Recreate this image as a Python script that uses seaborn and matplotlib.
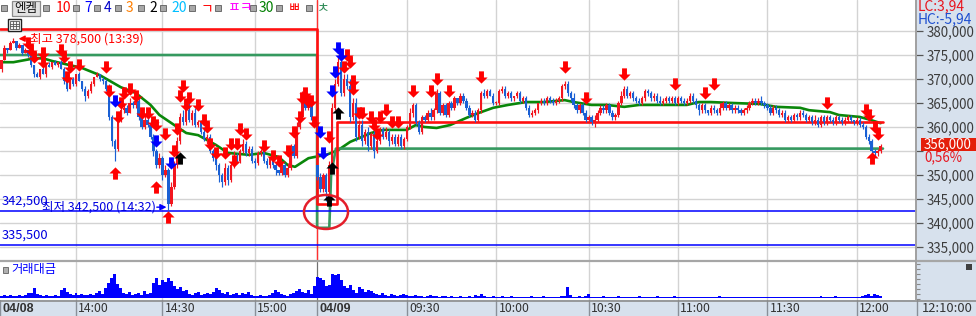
import numpy as np
import pandas as pd
import matplotlib
matplotlib.use("Agg")
import matplotlib.pyplot as plt
import seaborn as sns
from matplotlib.path import Path
from matplotlib.patches import Rectangle, Ellipse
from matplotlib.lines import Line2D

# ------------------------------------------------------------------ data
# prices in thousand KRW, 1-minute bars: day 1 (04/08 13:34-15:30), day 2 (04/09 09:00-12:09)
day_opens = [372.0, 352.0]
day1_close = [
    374.0, 376.5, 376.0, 377.5, 378.0, 376.5, 377.0, 375.5, 376.0, 375.0,
    373.0, 371.0, 370.5, 372.0, 371.0, 373.0, 372.5, 373.5, 373.0, 373.5,
    372.0, 369.5, 368.0, 370.0, 369.0, 371.0, 369.5, 368.0, 366.5, 367.5,
    369.0, 370.5, 371.0, 370.0, 369.5, 368.0, 362.0, 357.0, 355.5, 361.5,
    363.5, 364.0, 363.0, 365.0, 364.5, 365.5, 362.0, 360.0, 361.5, 360.5,
    358.0, 355.0, 352.0, 353.5, 350.0, 351.0, 344.0, 347.5, 352.0, 357.0,
    362.0, 361.0, 363.5, 361.5, 363.0, 360.5, 361.0, 359.0, 357.5, 358.0,
    355.0, 353.5, 352.0, 350.0, 348.5, 351.5, 349.0, 352.0, 354.0, 353.0,
    355.0, 356.5, 354.5, 355.5, 353.0, 352.5, 354.5, 355.0, 353.0, 352.0,
    353.5, 352.0, 351.0, 350.5, 352.0, 350.0, 351.5, 356.0, 354.0, 360.0,
    362.0, 366.0, 364.0, 365.5, 362.0, 361.5]
day2_close = [
    349.5, 347.0, 350.0, 346.5, 352.0, 364.0, 369.0, 373.5, 367.0, 370.0,
    368.5, 362.0, 365.0, 358.0, 360.5, 357.0, 359.0, 356.0, 358.5, 355.0,
    357.0, 359.5, 358.0, 359.0, 357.0, 358.0, 356.5, 358.0, 356.0, 357.5,
    360.0, 363.0, 364.5, 361.0, 359.0, 362.0, 361.5, 363.0, 362.0, 363.5,
    367.0, 363.0, 364.5, 362.5, 365.0, 364.0, 366.0, 365.0, 366.5, 365.5,
    364.0, 362.5, 363.0, 361.5, 363.5, 367.0, 366.5, 367.5, 366.5, 365.0,
    365.0, 367.5, 368.0, 366.5, 367.0, 366.0, 366.5, 367.0, 365.5, 366.0,
    364.0, 362.5, 363.0, 363.5, 365.0, 365.5, 365.0, 366.0, 365.5, 365.0,
    365.5, 366.0, 368.5, 369.0, 367.0, 366.0, 364.5, 363.5, 364.5, 363.0,
    361.5, 362.0, 361.0, 361.5, 363.0, 364.0, 363.5, 364.5, 363.0, 362.0,
    362.5, 365.0, 366.5, 368.0, 366.5, 367.0, 366.0, 365.5, 365.0, 366.0,
    367.5, 367.0, 366.0, 366.5, 365.5, 365.0, 365.5, 366.0, 365.5, 366.0,
    365.0, 366.0, 365.5, 365.0, 365.5, 366.5, 365.5, 364.5, 363.5, 364.5,
    363.5, 363.0, 364.0, 363.5, 363.0, 364.0, 365.0, 364.0, 364.5, 363.5,
    364.0, 363.5, 363.0, 363.5, 364.0, 365.0, 365.5, 365.0, 365.5, 365.0,
    364.5, 364.0, 363.0, 364.0, 363.5, 362.5, 363.0, 361.5, 362.0, 361.5,
    362.5, 362.0, 363.0, 362.5, 361.5, 362.0, 361.0, 361.5, 360.5, 362.0,
    361.0, 362.0, 361.5, 361.0, 362.0, 361.5, 361.0, 361.5, 362.0, 361.5,
    361.0, 361.5, 360.5, 360.0, 358.0, 357.0, 355.0, 354.5, 355.0, 356.0]
# wick lengths beyond the body, in 500-won ticks
hi_ext = [
    0,1,0,1,1,0,1,0,1,0, 1,0,1,0,1,0,1,0,1,0, 1,1,0,1,1,0,1,0,1,1,
    1,0,1,0,1,1,2,1,1,2, 1,2,1,2,1,1,1,1,2,1, 2,1,1,2,1,2,1,2,2,2,
    2,3,2,3,1,2,1,1,2,1, 1,1,2,1,1,2,1,1,2,1, 1,2,1,1,1,1,1,1,1,1,
    1,1,1,0,1,1,2,1,1,2, 2,3,1,2,1,0,
    0,2,1,1,2,2,2,3,2,2, 2,3,2,2,2,2,1,2,1,2, 1,1,1,2,1,1,1,1,1,1,
    1,2,1,1,1,1,1,1,2,1, 2,1,1,1,1,1,1,0,1,1, 1,1,1,1,1,1,2,1,1,1,
    1,1,1,1,1,1,0,1,1,1, 1,1,1,1,0,1,1,1,1,1, 1,1,1,1,1,1,2,1,1,1,
    1,1,1,2,1,1,1,1,1,1, 1,1,2,1,1,1,1,1,1,1, 1,1,1,1,1,2,1,1,1,1,
    1,1,1,1,1,1,1,1,1,1, 1,0,1,1,1,2,1,1,1,1, 1,1,1,1,1,1,1,1,1,2,
    1,1,1,1,1,1,1,1,1,1, 1,1,1,1,1,1,1,2,1,1, 1,1,1,1,1,1,1,1,1,1,
    0,1,1,1,1,1,1,1,1,1]
lo_ext = [
    1,0,1,0,0,1,0,1,0,1, 1,1,0,1,0,1,0,1,0,1, 0,1,1,0,1,1,0,1,2,1,
    1,1,0,1,1,1,1,2,5,1, 1,1,1,0,1,1,1,1,1,1, 1,2,1,1,2,1,3,1,1,1,
    1,1,1,1,2,1,1,1,1,2, 1,1,2,3,2,1,2,1,1,1, 1,1,1,1,1,2,1,1,1,1,
    1,1,2,1,1,1,1,1,1,1, 1,1,1,1,1,1,
    1,1,1,4,1,1,1,1,1,1, 1,2,1,2,1,2,1,2,1,3, 1,1,1,1,2,1,1,1,1,1,
    1,1,2,1,1,1,1,1,1,1, 1,1,1,1,1,1,1,1,1,1, 1,1,1,1,1,1,1,1,0,1,
    1,1,1,1,1,1,1,1,1,1, 1,1,1,1,1,1,1,1,1,1, 1,1,1,1,1,1,1,1,1,1,
    1,1,1,2,1,1,1,1,1,1, 1,1,1,1,1,1,1,1,1,1, 1,1,1,1,1,1,1,1,1,1,
    1,1,1,1,1,1,1,1,2,1, 1,1,1,1,1,1,1,1,1,1, 1,1,1,1,1,1,1,1,1,1,
    1,1,1,1,1,1,1,1,1,1, 1,1,1,1,1,1,1,1,1,1, 1,1,1,1,1,1,1,1,1,1,
    1,1,1,1,1,1,1,1,1,1]
# trading value (거래대금), relative units
volume = [
    2,3,2,3,2,2,3,2,3,5, 5,10,4,3,2,3,2,2,3,2, 8,10,6,4,3,5,3,4,3,3,
    4,3,5,7,4,10,15,20,24,14, 10,5,4,6,3,4,5,3,7,4, 5,15,20,13,18,16,20,17,12,9,
    11,7,8,4,3,5,6,3,4,5, 4,6,10,8,5,4,6,3,4,5, 3,5,4,6,3,2,2,3,2,2,
    3,5,8,6,4,3,2,4,5,7, 9,6,5,8,4,12,
    21,20,18,12,13,24,23,24,18,12, 10,13,8,5,11,9,6,8,7,5, 4,3,5,3,2,4,3,2,3,4,
    3,2,2,3,2,2,1,2,3,2, 2,1,2,2,1,2,1,1,2,1, 1,2,1,3,2,4,2,1,1,2,
    1,1,2,1,1,2,1,1,1,1, 1,1,2,1,1,1,2,1,1,1, 1,1,2,2,11,3,1,1,2,1,
    2,4,1,1,1,1,2,1,1,1, 1,2,1,1,1,1,1,1,2,1, 1,1,1,1,2,1,1,1,1,1,
    2,1,1,1,1,1,1,1,1,1, 1,1,1,1,1,2,1,1,1,1, 1,1,1,1,1,1,1,1,1,1,
    1,1,1,1,1,1,1,1,1,1, 1,1,1,1,1,1,1,1,1,2, 1,1,1,1,2,1,1,1,1,1,
    1,1,1,2,3,4,2,4,3,2]
# moving average (green)
ma_idx = [0, 4, 11, 14, 17, 27, 33, 40, 45, 50, 53, 58, 62, 66, 72, 76, 83, 88, 93, 96,
          98.5, 103, 105, 109, 113, 117, 124, 128, 136, 139, 142, 146, 150.5, 156, 160,
          165, 170, 176, 182, 189, 192, 198, 203, 209, 214, 230, 234, 238, 245.5, 254.5,
          260, 268, 271, 278, 281, 288, 291.5, 295]
ma_val = [373.5, 373.5, 374.3, 374.3, 373.75, 372.3, 370.8, 368.3, 367.1, 364.6, 362.5,
          360.4, 358.75, 358.3, 356.25, 354.6, 354.2, 354.6, 353.75, 352.1, 351.7, 353.5,
          353.75, 354.2, 355.2, 356.9, 358.75, 359.4, 359.4, 360.4, 360.0, 359.8, 360.4,
          361.9, 362.9, 364.0, 364.6, 365.2, 365.2, 365.6, 365.2, 364.6, 364.6, 364.2,
          364.6, 364.6, 365.2, 365.2, 365.0, 364.8, 364.2, 364.0, 363.5, 363.1, 362.5,
          362.1, 361.5, 360.8]
# step reference lines
red_step_idx = [-0.5, 105.9, 105.9, 112.6, 112.6, 295.8]
red_step_val = [380.5, 380.5, 344.0, 344.0, 361.0, 361.0]
green_step_idx = [-0.5, 105.9, 105.9, 110.0, 110.6, 112.2, 295.8]
green_step_val = [375.0, 375.0, 339.0, 339.0, 350.0, 355.5, 355.5]
# signal arrows
red_dn_idx = [9, 10, 11, 14, 14, 20, 21, 22, 23, 26, 35, 36, 39, 40, 41, 43, 45, 47, 49, 51,
              52, 55, 58, 59, 60, 61, 62, 63, 66, 68, 69, 70, 72, 75, 77, 78, 79, 80, 82, 88,
              91, 93, 96, 98, 100, 101, 102, 103, 104, 105, 110, 115, 116, 117, 118, 118, 120,
              121, 124, 125, 126, 127, 129, 131, 133, 138, 144, 146, 150, 161, 189, 196, 209,
              226, 236, 239, 277, 290, 291, 293, 294]
red_dn_val = [377.5, 376.0, 374.5, 375.5, 373.5, 376.0, 374.5, 370.5, 372.5, 373.0, 372.5,
              367.5, 362.0, 365.0, 367.0, 368.0, 366.5, 363.0, 363.0, 361.0, 360.5, 358.5,
              355.0, 359.5, 366.5, 368.5, 364.5, 366.0, 364.5, 361.5, 360.0, 356.5, 354.5,
              354.5, 356.5, 353.0, 356.5, 359.5, 358.5, 356.0, 354.0, 353.0, 355.0, 359.0,
              362.0, 366.0, 367.0, 365.5, 365.5, 361.0, 358.0, 372.5, 375.0, 373.5, 369.5,
              368.0, 363.0, 363.0, 362.0, 360.5, 358.5, 362.0, 363.5, 361.0, 361.0, 367.5,
              367.5, 370.0, 367.5, 370.5, 372.5, 366.0, 371.0, 369.0, 367.0, 369.0, 365.0,
              363.5, 362.5, 360.0, 358.5]
blue_dn_idx = [38, 52, 57, 107, 108, 111, 112, 113, 114]
blue_dn_val = [365.5, 357.0, 352.5, 359.0, 354.5, 367.5, 371.5, 376.5, 375.0]
red_up_idx = [38, 52, 56, 292]
red_up_val = [350.5, 347.5, 341.3, 353.5]
black_up_idx = [60, 110, 111, 113]
black_up_val = [353.5, 344.8, 351.5, 363.0]
# levels and labels
price_ticks = [335, 340, 345, 350, 355, 360, 365, 370, 375, 380]
support_levels = [342.5, 335.5]
high_bar, high_price, high_time = 4, 378.5, "13:39"
low_bar, low_price, low_time = 56, 342.5, "14:32"
last_price, last_change = 356.0, "0,56%"
time_labels = ["04/08", "14:00", "14:30", "15:00", "04/09", "09:30", "10:00", "10:30",
               "11:00", "11:30", "12:00"]
time_pos = [0, 25, 54, 85, 106, 136, 166, 197, 227, 257, 287]
bold_labels = ["04/08", "04/09"]
cursor_time = "12:10:00"
legend_items = ["10", "7", "4", "3", "2", "20", "ㄱ", "ㅍㅋ", "30", "ㅃ", "ㅊ"]
legend_colors = ["#ff0000", "#0000ff", "#0000c8", "#ff7f00", "#000000", "#00bfff",
                 "#ff0000", "#ff00ff", "#008000", "#ff0000", "#2e8b57"]
stock_name = "엔켐"
lc_text, hc_text = "LC:3,94", "HC:-5,94"

assert len(day1_close) + len(day2_close) == len(hi_ext) == len(lo_ext) == len(volume)
assert len(ma_idx) == len(ma_val) and len(red_dn_idx) == len(red_dn_val)

# ------------------------------------------------------------------ build OHLC
closes = np.array(day1_close + day2_close)
n = len(closes)
idx = np.arange(n)
opens = np.concatenate([[day_opens[0]], closes[:-1]])
opens[len(day1_close)] = day_opens[1]
highs = np.maximum(opens, closes) + np.array(hi_ext) * 0.5
lows = np.minimum(opens, closes) - np.array(lo_ext) * 0.5
df = pd.DataFrame({"idx": idx, "open": opens, "close": closes, "high": highs,
                   "low": lows, "vol": volume})

# ------------------------------------------------------------------ layout
W, H = 976, 316
PX_BAR, X_OFF = 2.98, 1.5          # px per bar, px of first bar centre
PX_K, P_TOP = 4.8, 386.46          # px per 1000 KRW, price at top edge
PLOT_R = 916

NARROW = ["Liberation Sans Narrow", "Noto Sans CJK KR", "DejaVu Sans"]
KR = ["Noto Sans CJK KR", "DejaVu Sans"]

sns.set_theme(style="white")
plt.rcParams["font.family"] = NARROW
plt.rcParams["axes.unicode_minus"] = False

fig = plt.figure(figsize=(W / 100, H / 100), dpi=100)
fig.patch.set_facecolor("white")


def rect(x0, y0, x1, y1):
    return [x0 / W, 1 - y1 / H, (x1 - x0) / W, (y1 - y0) / H]


def px2i(x):
    return (x - X_OFF) / PX_BAR


def ftxt(x, y, s, **kw):
    return fig.text(x / W, 1 - y / H, s, **kw)


def fline(x0, y0, x1, y1, **kw):
    fig.add_artist(Line2D([x0 / W, x1 / W], [1 - y0 / H, 1 - y1 / H],
                          transform=fig.transFigure, **kw))


def frect(x0, y0, x1, y1, **kw):
    fig.add_artist(Rectangle((x0 / W, 1 - y1 / H), (x1 - x0) / W, (y1 - y0) / H,
                             transform=fig.transFigure, **kw))


PANEL = "#d7e1ed"
frect(PLOT_R, 0, W, H, facecolor=PANEL, edgecolor="none", zorder=-5)

ax = fig.add_axes(rect(0, 0, PLOT_R, 261))
axv = fig.add_axes(rect(0, 262, PLOT_R, 300))
axt = fig.add_axes(rect(0, 300, PLOT_R, 316))
XLIM = (px2i(0), px2i(PLOT_R))

# ------------------------------------------------------------------ price panel
ax.set_xlim(*XLIM)
ax.set_ylim(P_TOP - 261 / PX_K, P_TOP)
for s in ax.spines.values():
    s.set_visible(False)
for p in price_ticks:
    ax.axhline(p, color="#d3d3d3", lw=1.0, zorder=0)
for pos in time_pos[1:]:
    ax.axvline(pos, color="#d3d3d3", lw=1.0, zorder=0)

sns.lineplot(x=ma_idx, y=ma_val, ax=ax, color="#0a870a", linewidth=1.9,
             estimator=None, sort=False, zorder=2)
ax.plot(green_step_idx, green_step_val, color="#35995f", lw=1.9, zorder=2)
ax.plot(red_step_idx, red_step_val, color="#ff1010", lw=1.9, zorder=2.2)

UP, DN = "#f2161e", "#1a60d4"
cols = np.where(df["close"] >= df["open"], UP, DN)
ax.vlines(df["idx"], df["low"], df["high"], colors=cols, linewidth=0.85, zorder=3)
body = np.maximum((df["close"] - df["open"]).abs(), 0.22)
ax.bar(df["idx"], body, bottom=np.minimum(df["open"], df["close"]), width=0.78,
       color=cols, linewidth=0, zorder=3)

for lv in support_levels:
    ax.axhline(lv, color="#0000ff", lw=1.1, zorder=2.5)
    ax.text(px2i(2), lv + 2.0, f"{int(lv * 1000):,}", color="#0000e0",
            fontsize=9.3, va="center", ha="left", zorder=6)

ax.axvline(len(day1_close), color="#ff3030", lw=1.0, zorder=1.5)


def arrow_marker(down=True):
    s = 1 if down else -1
    verts = [(-0.2, 0.5 * s), (0.2, 0.5 * s), (0.2, 0.0), (0.5, 0.0), (0.0, -0.5 * s),
             (-0.5, 0.0), (-0.2, 0.0), (-0.2, 0.5 * s)]
    codes = [Path.MOVETO] + [Path.LINETO] * 6 + [Path.CLOSEPOLY]
    return Path(verts, codes)


DOWN_M, UP_M = arrow_marker(True), arrow_marker(False)
MS = 78
ax.scatter(red_dn_idx, red_dn_val, marker=DOWN_M, s=MS, c="#ff0000", linewidths=0, zorder=5)
ax.scatter(blue_dn_idx, blue_dn_val, marker=DOWN_M, s=MS, c="#0000ff", linewidths=0, zorder=5)
ax.scatter(red_up_idx, red_up_val, marker=UP_M, s=MS, c="#ff0000", linewidths=0, zorder=5)
ax.scatter(black_up_idx, black_up_val, marker=UP_M, s=MS, c="#000000", linewidths=0, zorder=5)

# high / low annotations
ax.annotate("", xy=(high_bar + 0.8, high_price - 0.1), xytext=(px2i(30), high_price - 0.1),
            arrowprops=dict(arrowstyle="-|>", color="#ff0000", lw=1.0, mutation_scale=9),
            zorder=6)
ax.text(px2i(30), high_price - 0.1, f"최고 {int(high_price * 1000):,} ({high_time})",
        color="#ff0000", fontsize=9, va="center", ha="left", zorder=6)
ax.text(px2i(42), low_price + 0.8, f"최저 {int(low_price * 1000):,} ({low_time})",
        color="#0000e0", fontsize=9, va="center", ha="left", zorder=6)
ax.annotate("", xy=(low_bar + 0.3, low_price + 0.8), xytext=(px2i(154), low_price + 0.8),
            arrowprops=dict(arrowstyle="-|>", color="#0000ff", lw=1.0, mutation_scale=9),
            zorder=6)
ax.add_patch(Ellipse((px2i(326), 342.3), 44 / PX_BAR, 34 / PX_K, fill=False,
                     edgecolor="#e41e2a", lw=1.8, zorder=6))

# right axis ticks (label next to the current-price box is hidden, as in the HTS)
ax.set_yticks(price_ticks)
ax.set_yticklabels(["" if abs(p - last_price) < 2.5 else f"{p * 1000:,}"
                    for p in price_ticks])
ax.set_xticks([])
ax.tick_params(axis="y", left=False, right=True, labelleft=False, labelright=True,
               direction="out", length=5, width=0.9, color="#555555", pad=2.5,
               labelsize=9.6, labelcolor="#3c3c3c")

# ------------------------------------------------------------------ volume panel
sns.barplot(data=df, x="idx", y="vol", native_scale=True, width=1.0, color="#0000ff",
            saturation=1, errorbar=None, linewidth=0, ax=axv)
axv.set_xlim(*XLIM)
axv.set_ylim(-2, 36)
for s in axv.spines.values():
    s.set_visible(False)
for pos in time_pos[1:]:
    axv.axvline(pos, color="#d3d3d3", lw=1.0, zorder=0)
axv.axvline(len(day1_close), color="#707070", lw=0.8, zorder=0.5)
axv.set_xlabel("")
axv.set_ylabel("")
axv.set_xticks([])
axv.set_yticks([-1, 4, 9, 14, 19, 24, 29, 34])
axv.set_yticklabels([])
axv.tick_params(axis="y", left=False, right=True, direction="out", length=3,
                width=0.8, color="#888888")
frect(3, 267, 8, 273, facecolor="#b0b0b0", edgecolor="#707070", lw=0.7, zorder=6)
ftxt(11, 270, "거래대금", color="#0000ff", fontsize=8.8, family=KR, va="center", ha="left")

# ------------------------------------------------------------------ time strip
axt.set_facecolor(PANEL)
axt.set_xlim(*XLIM)
axt.set_ylim(0, 1)
for s in axt.spines.values():
    s.set_visible(False)
axt.set_xticks([])
axt.set_yticks([])
for lab, pos in zip(time_labels, time_pos):
    x = pos if pos > 0 else px2i(0)
    axt.axvline(x, color="#8a9099", lw=1.0)
    bold = lab in bold_labels
    axt.text(x + 0.75, 0.45, lab, fontsize=9 if bold else 8.8,
             family=["Liberation Sans", "DejaVu Sans"] if bold else NARROW,
             fontweight="bold" if bold else "normal", color="#333333",
             va="center", ha="left")
ftxt(922, 308, cursor_time, fontsize=9.3, color="#333333", va="center", ha="left")
fline(PLOT_R + 1, 300, PLOT_R + 1, 316, color="#8a9099", lw=1.0, zorder=6)

# ------------------------------------------------------------------ frame lines
fline(0, 261, W, 261, color="#a6a6a6", lw=1.6, zorder=6)
fline(0, 300.5, W, 300.5, color="#8c8c8c", lw=1.2, zorder=6)
fline(PLOT_R, 0, PLOT_R, 300, color="#a0a0a0", lw=1.4, zorder=6)

# right panel texts
ftxt(918, 6, lc_text, color="#e8141e", fontsize=10, va="center", ha="left")
ftxt(918, 19, hc_text, color="#1e4fd0", fontsize=10, va="center", ha="left")
y_last = (P_TOP - last_price) * PX_K
frect(921, y_last - 8, W, y_last + 5, facecolor="#e41e0a", edgecolor="none", zorder=7)
ftxt(924, y_last - 1.5, f"{int(last_price * 1000):,}", color="white", fontsize=9.6,
     va="center", ha="left", zorder=8)
ftxt(924, y_last + 11, last_change, color="#e8141e", fontsize=9.6, va="center",
     ha="left", zorder=8)
frect(966, 264, 972, 270, facecolor="#404040", edgecolor="none", zorder=7)

# ------------------------------------------------------------------ toolbar
squares = [4, 46, 76, 97, 118, 141, 163, 192, 218, 253, 279, 309]
for sx in squares:
    frect(sx - 3, 5, sx + 3, 11, facecolor="#a8a8a8", edgecolor="#6c6c6c", lw=0.7, zorder=7)
frect(12, 1.5, 40, 16, facecolor="#e2e2e2", edgecolor="#8c8c8c", lw=0.9, zorder=7)
ftxt(26, 8.5, stock_name, color="#111111", fontsize=9, family=KR, va="center",
     ha="center", zorder=8)
legend_x = [56, 84, 104, 126, 149, 171, 201, 228, 259, 288, 317]
for lx, lab, lc in zip(legend_x, legend_items, legend_colors):
    ftxt(lx, 8.5, lab, color=lc, fontsize=10, va="center", ha="left", zorder=8,
         family=NARROW if lab[0].isdigit() else KR)

# small grid icon
frect(7.5, 19, 20.5, 31, facecolor="white", edgecolor="#222222", lw=1.0, zorder=7)
frect(9.5, 21, 18.5, 29, facecolor="#f4f4f4", edgecolor="#555555", lw=0.6, zorder=7)
for gx in (12.5, 15.5):
    fline(gx, 21, gx, 29, color="#555555", lw=0.6, zorder=8)
for gy in (23.7, 26.3):
    fline(9.5, gy, 18.5, gy, color="#555555", lw=0.6, zorder=8)

fig.savefig("out.png", dpi=100)
